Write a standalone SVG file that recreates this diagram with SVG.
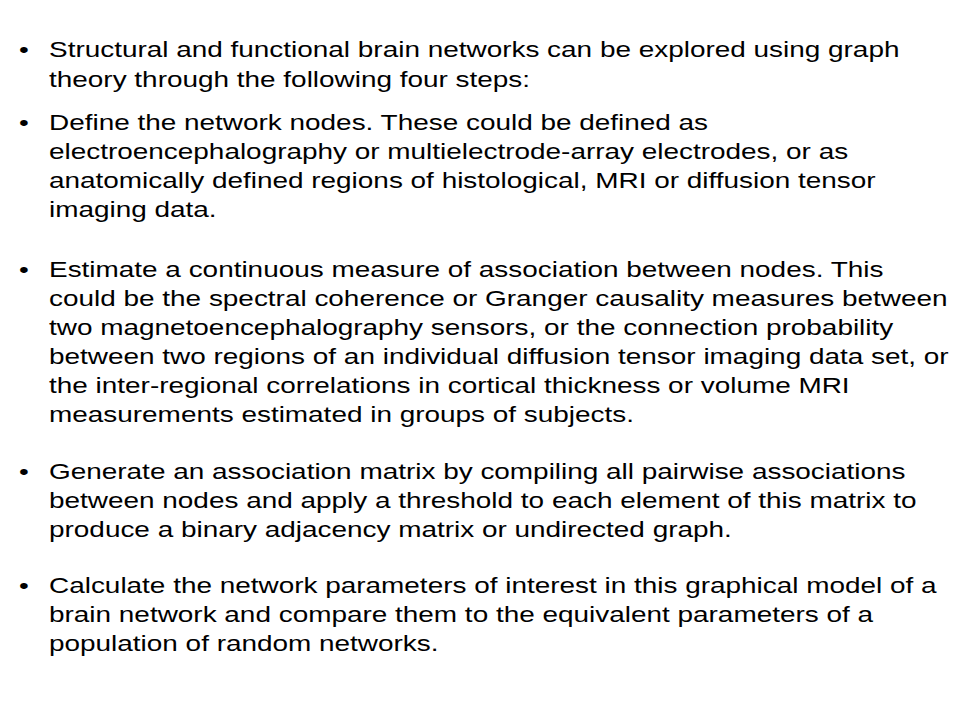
<svg xmlns="http://www.w3.org/2000/svg" width="960" height="720" viewBox="0 0 960 720">
<style>
text{font-family:"Liberation Sans",Arial,sans-serif;font-size:22px;fill:#000}
.b{font-size:22px}
</style>
<rect width="960" height="720" fill="#fff"/>
<g id="bullets" transform="matrix(1.27 0 0 1 0 0)">
<text class="b" x="15" y="57">•</text>
<text class="b" x="15" y="130">•</text>
<text class="b" x="15" y="277">•</text>
<text class="b" x="15" y="479">•</text>
<text class="b" x="15" y="593">•</text>
</g>
<g transform="matrix(1.27 0 0 1 0 0)">
<g id="bullet1">
<text x="38.6" y="57">Structural and functional brain networks can be explored using graph</text>
<text x="38.6" y="87">theory through the following four steps:</text>
</g>
<g id="bullet2">
<text x="38.6" y="130">Define the network nodes. These could be defined as</text>
<text x="38.6" y="159">electroencephalography or multielectrode-array electrodes, or as</text>
<text x="38.6" y="188">anatomically defined regions of histological, MRI or diffusion tensor</text>
<text x="38.6" y="217">imaging data.</text>
</g>
<g id="bullet3">
<text x="38.6" y="277">Estimate a continuous measure of association between nodes. This</text>
<text x="38.6" y="306">could be the spectral coherence or Granger causality measures between</text>
<text x="38.6" y="335">two magnetoencephalography sensors, or the connection probability</text>
<text x="38.6" y="364">between two regions of an individual diffusion tensor imaging data set, or</text>
<text x="38.6" y="393">the inter-regional correlations in cortical thickness or volume MRI</text>
<text x="38.6" y="422">measurements estimated in groups of subjects.</text>
</g>
<g id="bullet4">
<text x="38.6" y="479">Generate an association matrix by compiling all pairwise associations</text>
<text x="38.6" y="508">between nodes and apply a threshold to each element of this matrix to</text>
<text x="38.6" y="537">produce a binary adjacency matrix or undirected graph.</text>
</g>
<g id="bullet5">
<text x="38.6" y="593">Calculate the network parameters of interest in this graphical model of a</text>
<text x="38.6" y="622">brain network and compare them to the equivalent parameters of a</text>
<text x="38.6" y="651">population of random networks.</text>
</g>
</g>
</svg>
